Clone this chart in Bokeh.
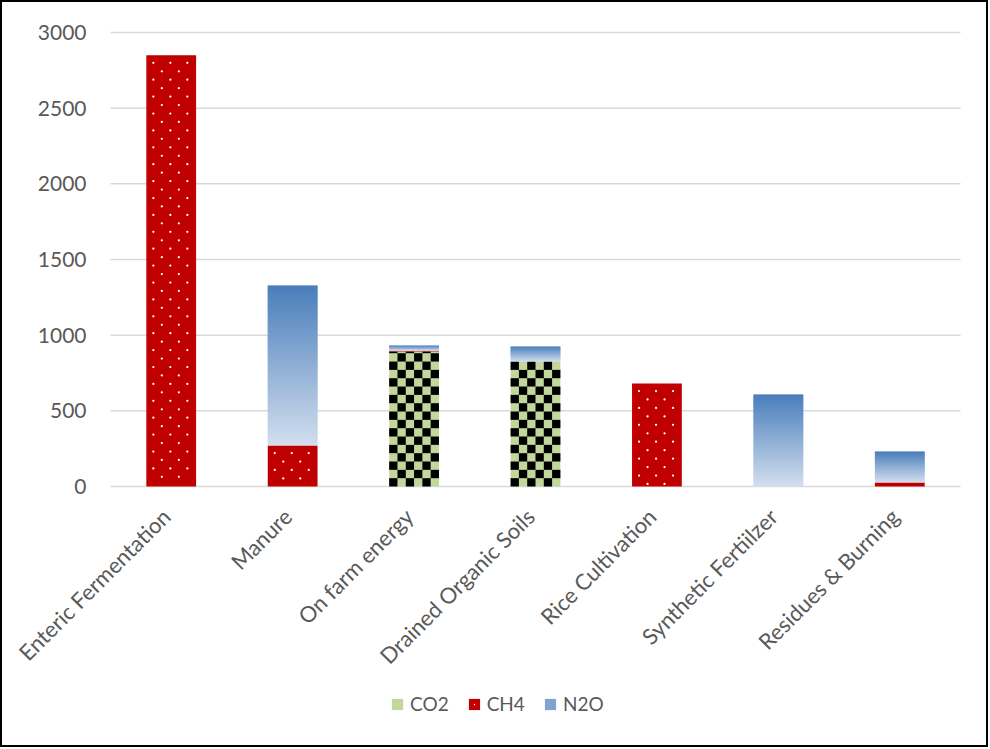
import math
import numpy as np
from bokeh.plotting import figure
from bokeh.models import ColumnDataSource, Legend, LegendItem, Range1d
from bokeh.core.properties import value
from bokeh.embed import file_html
from bokeh.resources import INLINE

categories = ["Enteric Fermentation", "Manure", "On farm energy",
              "Drained Organic Soils", "Rice Cultivation",
              "Synthetic Fertiilzer", "Residues & Burning"]
co2 = [0, 0, 892, 826, 0, 0, 0]
ch4 = [2850, 271, 5, 0, 681, 0, 26]
n2o = [0, 1057, 35, 99, 0, 608, 205]
y_ticks = [0, 500, 1000, 1500, 2000, 2500, 3000]
y_tick_labels = ["0", "500", "1000", "1500", "2000", "2500", "3000"]

FONT = "Lato"
GREY = "#595959"

# ---- layout (pixels from the canvas origin, just inside the border) ----
CW, CH = 988, 747
PLOT_LEFT, PLOT_RIGHT = 108, 958
TOP_PX, ZERO_PX = 30, 484    # rows of 3000 and 0
YMAX = 3000
ppu_y = (ZERO_PX - TOP_PX) / YMAX                   # px per value unit
ppu_x = (PLOT_RIGHT - PLOT_LEFT) / len(categories)  # px per category
y_end = YMAX + TOP_PX / ppu_y
y_start = -(CH - ZERO_PX) / ppu_y
x_start = -PLOT_LEFT / ppu_x
x_end = len(categories) + (CW - PLOT_RIGHT) / ppu_x

p = figure(x_range=Range1d(x_start, x_end), y_range=Range1d(y_start, y_end),
           width=CW, height=CH, output_backend="svg",
           toolbar_location=None, min_border=0,
           styles={"border": "2px solid black"})
p.outline_line_color = None
p.axis.visible = False
p.grid.visible = False

xc = [i + 0.5 for i in range(len(categories))]
W = 0.41

# gridlines
p.segment(x0=[0] * len(y_ticks), x1=[len(categories)] * len(y_ticks),
          y0=y_ticks, y1=y_ticks, line_color="#D9D9D9", line_width=1.5)

# y tick labels
p.text(x=[0] * len(y_ticks), y=y_ticks, text=y_tick_labels, x_offset=-24,
       text_align="right", text_baseline="middle", text_font=value(FONT),
       text_font_size="21px", text_color=GREY)

# category labels
p.text(x=xc, y=[0] * len(categories), text=categories, angle=math.pi / 4,
       text_align="right", text_baseline="middle", x_offset=-5, y_offset=26,
       text_font=value(FONT), text_font_size="22px", text_color=GREY)

# ---- CO2: green bar with black checker cells ----
src = ColumnDataSource(dict(x=xc, co2=co2,
                            b_ch4=list(co2),
                            t_ch4=[a + b for a, b in zip(co2, ch4)]))
r_co2 = p.vbar(x="x", bottom=0, top="co2", width=W, source=src,
               fill_color="#C4D79B", line_color=None)
cell_h = 8.33 / ppu_y
ncols = 6
cell_w = W / ncols
ql, qr, qb, qt = [], [], [], []
for x, v in zip(xc, co2):
    if v <= 0:
        continue
    nrows = math.ceil(v / cell_h)
    for r in range(nrows):
        for c in range(ncols):
            if (r + c) % 2 == 1:
                continue
            ql.append(x - W / 2 + c * cell_w)
            qr.append(x - W / 2 + (c + 1) * cell_w)
            qb.append(r * cell_h)
            qt.append(min((r + 1) * cell_h, v))
p.quad(left=ql, right=qr, bottom=qb, top=qt, fill_color="black",
       line_color=None)

# ---- CH4: red bar with staggered white dots ----
r_ch4 = p.vbar(x="x", bottom="b_ch4", top="t_ch4", width=W, source=src,
               fill_color="#C00000", line_color=None)
dy = 8.45 / ppu_y
row_a = [7 / ppu_x, 24 / ppu_x, 41 / ppu_x]
row_b = [15.5 / ppu_x, 32.5 / ppu_x]
dx_, dy_ = [], []
for x, a, b in zip(xc, co2, ch4):
    if b <= 0:
        continue
    top = a + b
    k = 0
    while True:
        yy = top - (k + 0.9) * dy
        if yy < a + 1.5 / ppu_y:
            break
        for off in (row_a if k % 2 == 0 else row_b):
            dx_.append(x - W / 2 + off)
            dy_.append(yy)
        k += 1
r_dots = p.scatter(x=dx_, y=dy_, marker="dot", size=9,
                   fill_color="white", line_color="white")

# ---- N2O: blue gradient (thin overlapping slices) ----
top_c = np.array([0x4A, 0x7E, 0xBB])
bot_c = np.array([0xD3, 0xDF, 0xEF])
xs, bs, ts, cs = [], [], [], []
legend_index = None
for x, a, b, v in zip(xc, co2, ch4, n2o):
    if v <= 0:
        continue
    base = a + b
    n = max(6, int(round(v * ppu_y)))
    if legend_index is None:
        legend_index = len(xs) + int(n * 0.6)
    for i in range(n):
        f = (i + 0.5) / n
        col = (bot_c + (top_c - bot_c) * f).astype(int)
        xs.append(x)
        bs.append(base + v * i / n)
        ts.append(base + v * min(i + 1.8, n) / n)
        cs.append("#%02x%02x%02x" % tuple(col))
nsrc = ColumnDataSource(dict(x=xs, bottom=bs, top=ts, color=cs))
r_n2o = p.vbar(x="x", bottom="bottom", top="top", width=W, source=nsrc,
               fill_color="color", line_color=None)

legend = Legend(items=[LegendItem(label="CO2", renderers=[r_co2]),
                       LegendItem(label="CH4", renderers=[r_ch4, r_dots]),
                       LegendItem(label="N2O", renderers=[r_n2o],
                                  index=legend_index)],
                orientation="horizontal", location=(388, 34),
                label_text_font=FONT, label_text_font_size="19px",
                label_text_color=GREY, glyph_width=14, glyph_height=14,
                spacing=18, label_standoff=6, padding=4,
                border_line_color=None, background_fill_alpha=0)
p.add_layout(legend, "center")

open("out.html", "w").write(file_html(p, INLINE))
